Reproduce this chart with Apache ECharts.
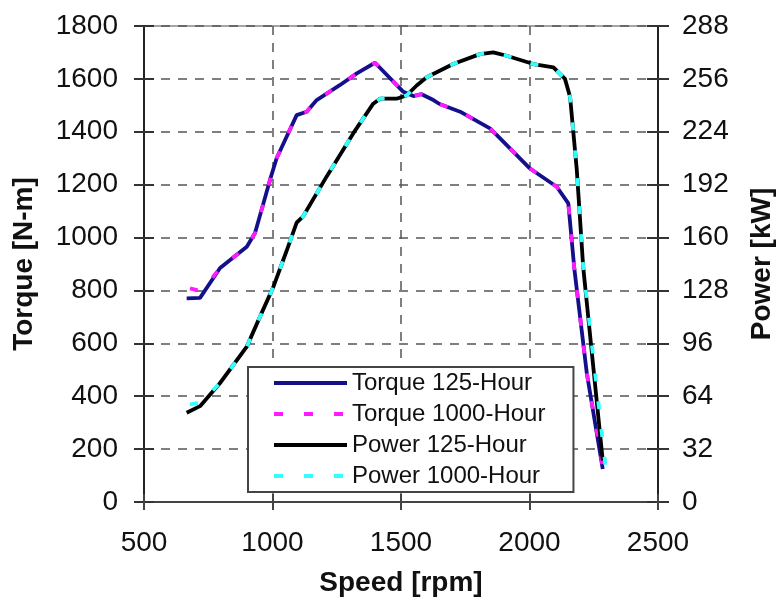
<!DOCTYPE html>
<html>
<head>
<meta charset="utf-8">
<script src="https://cdn.jsdelivr.net/npm/echarts@6/dist/echarts.min.js"></script>
<style>
html,body{margin:0;padding:0;background:#fff;}
#chart{width:779px;height:601px;}
</style>
</head>
<body>
<div id="chart"></div>
<script>
// ---- data ----
var seriesNames = ['Torque 125-Hour', 'Torque 1000-Hour', 'Power 125-Hour', 'Power 1000-Hour'];

var speedTorque125 = [666, 718, 796, 900, 932, 990, 1016, 1094, 1133, 1172, 1263, 1328, 1399, 1509, 1548, 1580, 1626, 1650, 1730, 1846, 1872, 2002, 2106, 2151, 2175, 2223, 2285];
var torque125      = [770, 772, 885, 965, 1017, 1217, 1300, 1463, 1476, 1520, 1577, 1621, 1661, 1551, 1535, 1542, 1520, 1505, 1476, 1413, 1388, 1261, 1192, 1129, 877, 487, 125];

var speedTorque1000 = [679, 711, 740, 796, 900, 932, 990, 1016, 1094, 1133, 1172, 1263, 1328, 1399, 1509, 1548, 1580, 1626, 1650, 1730, 1846, 1872, 2002, 2106, 2151, 2175, 2223, 2286];
var torque1000      = [808, 800, 815, 885, 965, 1017, 1217, 1300, 1463, 1476, 1520, 1577, 1621, 1661, 1551, 1535, 1542, 1520, 1505, 1476, 1413, 1388, 1261, 1192, 1129, 877, 487, 129];

var speedPower125 = [666, 718, 796, 900, 951, 1003, 1055, 1094, 1120, 1211, 1314, 1392, 1418, 1483, 1522, 1561, 1600, 1703, 1807, 1859, 1911, 2015, 2093, 2138, 2158, 2184, 2209, 2285];
var power125      = [54, 58, 72, 94, 112, 130, 152, 169, 173, 197, 223, 241, 244, 244, 246, 252, 257, 265, 271, 272, 270, 265, 263, 256, 245, 201, 142, 25];

var speedPower1000 = [679, 718, 796, 900, 951, 1003, 1055, 1094, 1120, 1211, 1314, 1392, 1418, 1483, 1522, 1561, 1600, 1703, 1807, 1859, 1911, 2015, 2093, 2138, 2158, 2184, 2209, 2300];
var power1000      = [59, 60, 72, 94, 112, 130, 152, 169, 173, 197, 223, 241, 244, 244, 246, 252, 257, 265, 271, 272, 270, 265, 263, 256, 245, 201, 142, 16];

var speedTicks = {min: 500, max: 2500, step: 500};
var torqueTicks = {min: 0, max: 1800, step: 200};
var powerTicks = {min: 0, max: 288, step: 32};

function pairs(xs, ys) { return xs.map(function (x, i) { return [x, ys[i]]; }); }
function plain(v) { return String(v); }

var FONT = '"Liberation Sans", Arial, sans-serif';
var chart = echarts.init(document.getElementById('chart'), null, {renderer: 'canvas'});

var gridDash = {color: '#555', width: 1.5, type: [9, 8]};
var legendDash = [9, 21];

var option = {
  animation: false,
  backgroundColor: '#fff',
  textStyle: {fontFamily: FONT},
  grid: {left: 144, right: 121, top: 26, bottom: 99, containLabel: false, outerBoundsMode: 'none',
         show: true, borderColor: '#888', borderWidth: 1.5, backgroundColor: 'transparent'},
  legend: {
    orient: 'vertical',
    left: 248, top: 367,
    padding: [4, 28, 4, 24],
    itemWidth: 73, itemHeight: 2, itemGap: 7,
    backgroundColor: '#fff', borderColor: '#444', borderWidth: 2, borderRadius: 0,
    lineStyle: {width: 4},
    textStyle: {fontFamily: FONT, fontSize: 24, color: '#111', lineHeight: 24},
    data: [
      {name: seriesNames[0]},
      {name: seriesNames[1], lineStyle: {width: 4, type: legendDash}},
      {name: seriesNames[2]},
      {name: seriesNames[3], lineStyle: {width: 4, type: legendDash}}
    ]
  },
  xAxis: [
    {
      type: 'value', min: speedTicks.min, max: speedTicks.max, interval: speedTicks.step,
      name: 'Speed [rpm]', nameLocation: 'middle', nameGap: 67,
      nameTextStyle: {fontFamily: FONT, fontSize: 28, fontWeight: 'bold', color: '#111'},
      axisLine: {show: true, onZero: false, lineStyle: {color: '#444', width: 2}},
      axisTick: {show: true, inside: false, length: 8, lineStyle: {color: '#444', width: 2}},
      axisLabel: {fontFamily: FONT, fontSize: 28, color: '#111', margin: 27, formatter: plain},
      splitLine: {show: true, lineStyle: gridDash}
    },
    {
      type: 'value', min: speedTicks.min, max: speedTicks.max, interval: speedTicks.step, position: 'bottom',
      axisLine: {show: false}, axisLabel: {show: false}, splitLine: {show: false},
      axisTick: {show: true, inside: true, length: 8, lineStyle: {color: '#444', width: 2}}
    }
  ],
  yAxis: [
    {
      type: 'value', min: torqueTicks.min, max: torqueTicks.max, interval: torqueTicks.step, position: 'left',
      name: 'Torque [N-m]', nameLocation: 'middle', nameGap: 106, nameRotate: 90,
      nameTextStyle: {fontFamily: FONT, fontSize: 28, fontWeight: 'bold', color: '#111'},
      axisLine: {show: true, lineStyle: {color: '#222', width: 2}},
      axisTick: {show: true, inside: false, length: 10, lineStyle: {color: '#333', width: 2}},
      axisLabel: {fontFamily: FONT, fontSize: 28, color: '#111', margin: 26, formatter: plain},
      splitLine: {show: true, lineStyle: gridDash}
    },
    {
      type: 'value', min: powerTicks.min, max: powerTicks.max, interval: powerTicks.step, position: 'right',
      name: 'Power [kW]', nameLocation: 'middle', nameGap: 90, nameRotate: 90,
      nameTextStyle: {fontFamily: FONT, fontSize: 28, fontWeight: 'bold', color: '#111'},
      axisLine: {show: true, lineStyle: {color: '#222', width: 2}},
      axisTick: {show: true, inside: false, length: 11, lineStyle: {color: '#333', width: 2}},
      axisLabel: {fontFamily: FONT, fontSize: 28, color: '#111', margin: 24, formatter: plain},
      splitLine: {show: false}
    },
    {
      type: 'value', min: torqueTicks.min, max: torqueTicks.max, interval: torqueTicks.step, position: 'left',
      axisLine: {show: false}, axisLabel: {show: false}, splitLine: {show: false},
      axisTick: {show: true, inside: true, length: 10, lineStyle: {color: '#333', width: 2}}
    },
    {
      type: 'value', min: powerTicks.min, max: powerTicks.max, interval: powerTicks.step, position: 'right',
      axisLine: {show: false}, axisLabel: {show: false}, splitLine: {show: false},
      axisTick: {show: true, inside: true, length: 11, lineStyle: {color: '#333', width: 2}}
    }
  ],
  series: [
    {
      name: seriesNames[0], type: 'line', xAxisIndex: 0, yAxisIndex: 0, symbol: 'circle', showSymbol: false,
      data: pairs(speedTorque125, torque125),
      lineStyle: {color: '#14108c', width: 3.8}, itemStyle: {color: '#14108c'}
    },
    {
      name: seriesNames[1], type: 'line', xAxisIndex: 0, yAxisIndex: 0, symbol: 'circle', showSymbol: false,
      data: pairs(speedTorque1000, torque1000),
      lineStyle: {color: '#ff1aff', width: 3.8, type: [8, 20]}, itemStyle: {color: '#ff1aff'}
    },
    {
      name: seriesNames[2], type: 'line', xAxisIndex: 0, yAxisIndex: 1, symbol: 'circle', showSymbol: false,
      data: pairs(speedPower125, power125),
      lineStyle: {color: '#000', width: 3.8}, itemStyle: {color: '#000'}
    },
    {
      name: seriesNames[3], type: 'line', xAxisIndex: 0, yAxisIndex: 1, symbol: 'circle', showSymbol: false,
      data: pairs(speedPower1000, power1000),
      lineStyle: {color: '#33ffff', width: 3.8, type: [8, 20]}, itemStyle: {color: '#33ffff'}
    }
  ]
};
chart.setOption(option);
</script>
</body>
</html>
